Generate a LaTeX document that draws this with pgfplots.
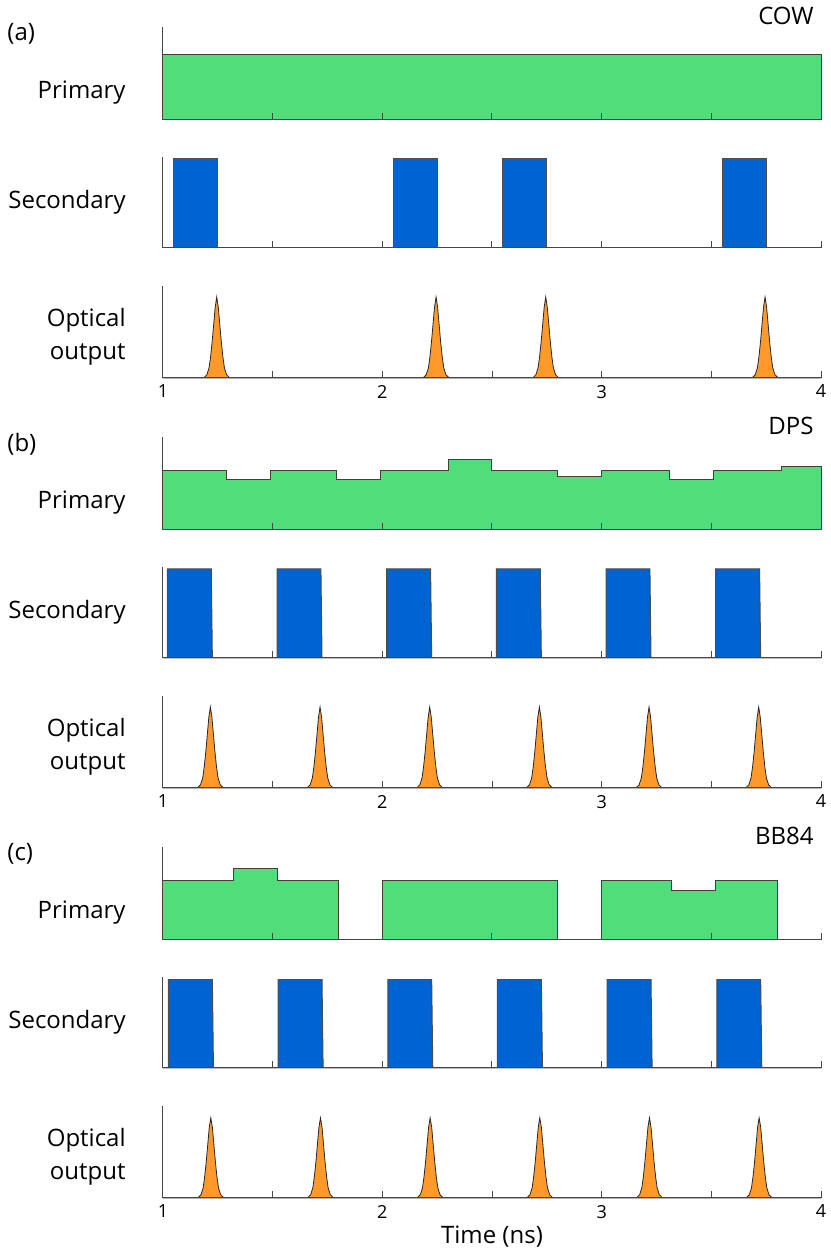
\documentclass[border=0pt]{standalone}
\usepackage{fontspec}
\setmainfont{Open Sans}
\usepackage{pgfplots}
\pgfplotsset{compat=1.18}

\definecolor{pgreen}{RGB}{82,221,123}
\definecolor{pblue}{RGB}{0,99,210}
\definecolor{porange}{RGB}{255,153,41}
\definecolor{axgray}{RGB}{70,70,70}

\newcommand{\lab}{\fontsize{12}{16.5}\selectfont}

\tikzset{rowlab/.style={anchor=east, font=\lab, inner sep=0pt, align=right, xshift=-18.5pt}}

\pgfplotsset{
  panel/.style={
    scale only axis, width=329pt,
    xmin=1, xmax=4, ymin=0, ymax=1,
    axis x line=bottom, axis y line=left,
    axis line style={-, draw=axgray, line width=0.5pt},
    ytick=\empty,
    xtick={1,1.5,2,2.5,3,3.5,4},
    xticklabels={},
    tick align=inside,
    major tick length=3.5pt,
    tick style={draw=axgray, line width=0.5pt},
    tick label style={font=\fontsize{9}{10}\selectfont},
    axis on top, clip=false,
    anchor=south west,
  },
  withlabels/.style={xticklabels={1,,2,,3,,4}},
  prim/.style={fill=pgreen, draw=black!75, line width=0.5pt},
  sec/.style={fill=pblue, draw=black!70, line width=0.5pt},
  opt/.style={fill=porange, draw=black!85, line width=0.4pt},
}

\begin{document}
\begin{tikzpicture}
\path[use as bounding box] (0,0) rectangle (415.5pt,627.5pt);

% ---------- (a) COW ----------
\begin{axis}[panel, at={(81.5pt,567.5pt)}, height=46.5pt]
\addplot[prim] coordinates {(1,0)(1,0.70)(4,0.70)(4,0)} \closedcycle;
\node[rowlab] at (rel axis cs:0,0.30) {Primary};
\end{axis}

\begin{axis}[panel, at={(81.5pt,503.5pt)}, height=45.5pt]
\addplot[sec] coordinates {(1,0)(1.05,0)(1.05,0.98)(1.25,0.98)(1.25,0)
  (2.05,0)(2.05,0.98)(2.25,0.98)(2.25,0)
  (2.55,0)(2.55,0.98)(2.75,0.98)(2.75,0)
  (3.55,0)(3.55,0.98)(3.75,0.98)(3.75,0)(4,0)} \closedcycle;
\node[rowlab] at (rel axis cs:0,0.5) {Secondary};
\end{axis}

\begin{axis}[panel, withlabels, at={(81.5pt,438.5pt)}, height=46pt]
\addplot[opt] coordinates {(1,0)
(1.185,0)(1.200,0.035)(1.210,0.11)(1.217,0.23)(1.224,0.39)(1.231,0.58)(1.238,0.77)(1.245,0.88)(1.252,0.77)(1.259,0.58)(1.266,0.39)(1.273,0.23)(1.280,0.11)(1.290,0.035)(1.305,0)
(2.185,0)(2.200,0.035)(2.210,0.11)(2.217,0.23)(2.224,0.39)(2.231,0.58)(2.238,0.77)(2.245,0.88)(2.252,0.77)(2.259,0.58)(2.266,0.39)(2.273,0.23)(2.280,0.11)(2.290,0.035)(2.305,0)
(2.685,0)(2.700,0.035)(2.710,0.11)(2.717,0.23)(2.724,0.39)(2.731,0.58)(2.738,0.77)(2.745,0.88)(2.752,0.77)(2.759,0.58)(2.766,0.39)(2.773,0.23)(2.780,0.11)(2.790,0.035)(2.805,0)
(3.685,0)(3.700,0.035)(3.710,0.11)(3.717,0.23)(3.724,0.39)(3.731,0.58)(3.738,0.77)(3.745,0.88)(3.752,0.77)(3.759,0.58)(3.766,0.39)(3.773,0.23)(3.780,0.11)(3.790,0.035)(3.805,0)
(4,0)} \closedcycle;
\node[rowlab] at (rel axis cs:0,0.45) {Optical\\output};
\end{axis}

% ---------- (b) DPS ----------
\begin{axis}[panel, at={(81.5pt,362.5pt)}, height=46.5pt]
\addplot[prim] coordinates {(1,0)(1,0.645)(1.29,0.645)(1.29,0.538)(1.49,0.538)(1.49,0.645)
  (1.79,0.645)(1.79,0.538)(1.99,0.538)(1.99,0.645)(2.30,0.645)(2.30,0.763)(2.50,0.763)(2.50,0.645)
  (2.80,0.645)(2.80,0.58)(3.00,0.58)(3.00,0.645)(3.31,0.645)(3.31,0.538)(3.51,0.538)(3.51,0.645)
  (3.82,0.645)(3.82,0.688)(4,0.688)(4,0)} \closedcycle;
\node[rowlab] at (rel axis cs:0,0.30) {Primary};
\end{axis}

\begin{axis}[panel, at={(81.5pt,298.5pt)}, height=45.5pt]
\addplot[sec] coordinates {(1,0)(1.02,0)(1.02,0.98)(1.22,0.98)(1.225,0)
  (1.52,0)(1.52,0.98)(1.72,0.98)(1.725,0)
  (2.02,0)(2.02,0.98)(2.22,0.98)(2.225,0)
  (2.52,0)(2.52,0.98)(2.72,0.98)(2.725,0)
  (3.02,0)(3.02,0.98)(3.22,0.98)(3.225,0)
  (3.52,0)(3.52,0.98)(3.72,0.98)(3.725,0)(4,0)} \closedcycle;
\node[rowlab] at (rel axis cs:0,0.5) {Secondary};
\end{axis}

\begin{axis}[panel, withlabels, at={(81.5pt,233.5pt)}, height=46pt]
\addplot[opt] coordinates {(1,0)
(1.156,0)(1.171,0.035)(1.181,0.11)(1.188,0.23)(1.195,0.39)(1.202,0.58)(1.209,0.77)(1.216,0.88)(1.223,0.77)(1.230,0.58)(1.237,0.39)(1.244,0.23)(1.251,0.11)(1.261,0.035)(1.276,0)
(1.656,0)(1.671,0.035)(1.681,0.11)(1.688,0.23)(1.695,0.39)(1.702,0.58)(1.709,0.77)(1.716,0.88)(1.723,0.77)(1.730,0.58)(1.737,0.39)(1.744,0.23)(1.751,0.11)(1.761,0.035)(1.776,0)
(2.156,0)(2.171,0.035)(2.181,0.11)(2.188,0.23)(2.195,0.39)(2.202,0.58)(2.209,0.77)(2.216,0.88)(2.223,0.77)(2.230,0.58)(2.237,0.39)(2.244,0.23)(2.251,0.11)(2.261,0.035)(2.276,0)
(2.656,0)(2.671,0.035)(2.681,0.11)(2.688,0.23)(2.695,0.39)(2.702,0.58)(2.709,0.77)(2.716,0.88)(2.723,0.77)(2.730,0.58)(2.737,0.39)(2.744,0.23)(2.751,0.11)(2.761,0.035)(2.776,0)
(3.156,0)(3.171,0.035)(3.181,0.11)(3.188,0.23)(3.195,0.39)(3.202,0.58)(3.209,0.77)(3.216,0.88)(3.223,0.77)(3.230,0.58)(3.237,0.39)(3.244,0.23)(3.251,0.11)(3.261,0.035)(3.276,0)
(3.656,0)(3.671,0.035)(3.681,0.11)(3.688,0.23)(3.695,0.39)(3.702,0.58)(3.709,0.77)(3.716,0.88)(3.723,0.77)(3.730,0.58)(3.737,0.39)(3.744,0.23)(3.751,0.11)(3.761,0.035)(3.776,0)
(4,0)} \closedcycle;
\node[rowlab] at (rel axis cs:0,0.45) {Optical\\output};
\end{axis}

% ---------- (c) BB84 ----------
\begin{axis}[panel, at={(81.5pt,157.5pt)}, height=46.5pt]
\addplot[prim] coordinates {(1,0)(1,0.64)(1.32,0.64)(1.32,0.77)(1.52,0.77)(1.52,0.64)(1.80,0.64)(1.80,0)
  (2.00,0)(2.00,0.64)(2.80,0.64)(2.80,0)
  (3.00,0)(3.00,0.64)(3.32,0.64)(3.32,0.53)(3.52,0.53)(3.52,0.64)(3.80,0.64)(3.80,0)(4,0)} \closedcycle;
\node[rowlab] at (rel axis cs:0,0.30) {Primary};
\end{axis}

\begin{axis}[panel, at={(81.5pt,93.5pt)}, height=45.5pt]
\addplot[sec] coordinates {(1,0)(1.025,0)(1.025,0.97)(1.225,0.97)(1.23,0)
  (1.525,0)(1.525,0.97)(1.725,0.97)(1.73,0)
  (2.025,0)(2.025,0.97)(2.225,0.97)(2.23,0)
  (2.525,0)(2.525,0.97)(2.725,0.97)(2.73,0)
  (3.025,0)(3.025,0.97)(3.225,0.97)(3.23,0)
  (3.525,0)(3.525,0.97)(3.725,0.97)(3.73,0)(4,0)} \closedcycle;
\node[rowlab] at (rel axis cs:0,0.5) {Secondary};
\end{axis}

\begin{axis}[panel, withlabels, at={(81.5pt,28.5pt)}, height=46pt]
\addplot[opt] coordinates {(1,0)
(1.158,0)(1.173,0.035)(1.183,0.11)(1.190,0.23)(1.197,0.39)(1.204,0.58)(1.211,0.77)(1.218,0.87)(1.225,0.77)(1.232,0.58)(1.239,0.39)(1.246,0.23)(1.253,0.11)(1.263,0.035)(1.278,0)
(1.658,0)(1.673,0.035)(1.683,0.11)(1.690,0.23)(1.697,0.39)(1.704,0.58)(1.711,0.77)(1.718,0.87)(1.725,0.77)(1.732,0.58)(1.739,0.39)(1.746,0.23)(1.753,0.11)(1.763,0.035)(1.778,0)
(2.158,0)(2.173,0.035)(2.183,0.11)(2.190,0.23)(2.197,0.39)(2.204,0.58)(2.211,0.77)(2.218,0.87)(2.225,0.77)(2.232,0.58)(2.239,0.39)(2.246,0.23)(2.253,0.11)(2.263,0.035)(2.278,0)
(2.658,0)(2.673,0.035)(2.683,0.11)(2.690,0.23)(2.697,0.39)(2.704,0.58)(2.711,0.77)(2.718,0.87)(2.725,0.77)(2.732,0.58)(2.739,0.39)(2.746,0.23)(2.753,0.11)(2.763,0.035)(2.778,0)
(3.158,0)(3.173,0.035)(3.183,0.11)(3.190,0.23)(3.197,0.39)(3.204,0.58)(3.211,0.77)(3.218,0.87)(3.225,0.77)(3.232,0.58)(3.239,0.39)(3.246,0.23)(3.253,0.11)(3.263,0.035)(3.278,0)
(3.658,0)(3.673,0.035)(3.683,0.11)(3.690,0.23)(3.697,0.39)(3.704,0.58)(3.711,0.77)(3.718,0.87)(3.725,0.77)(3.732,0.58)(3.739,0.39)(3.746,0.23)(3.753,0.11)(3.763,0.035)(3.778,0)
(4,0)} \closedcycle;
\node[rowlab] at (rel axis cs:0,0.45) {Optical\\output};
\end{axis}

% panel letters, scheme names, time label
\node[anchor=west, inner sep=0, font=\lab] at (3.5pt,610.5pt) {(a)};
\node[anchor=west, inner sep=0, font=\lab] at (3.5pt,405.5pt) {(b)};
\node[anchor=west, inner sep=0, font=\lab] at (3.5pt,200.5pt) {(c)};
\node[anchor=east, inner sep=0, font=\lab] at (407pt,619.5pt) {COW};
\node[anchor=east, inner sep=0, font=\lab] at (407pt,414.5pt) {DPS};
\node[anchor=east, inner sep=0, font=\lab] at (407pt,209.5pt) {BB84};
\node[inner sep=0, font=\lab] at (246pt,9pt) {Time (ns)};
\end{tikzpicture}
\end{document}
